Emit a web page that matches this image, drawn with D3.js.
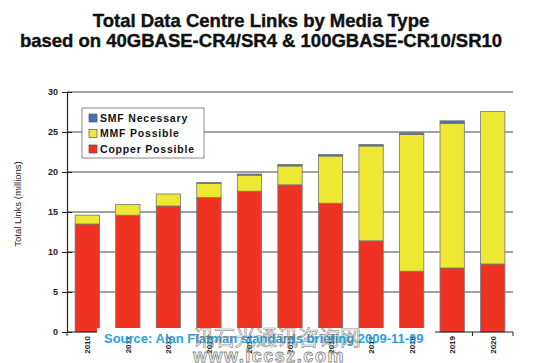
<!DOCTYPE html>
<html>
<head>
<meta charset="utf-8">
<script src="https://cdn.jsdelivr.net/npm/d3@7"></script>
<style>
  body { margin: 0; background: #fff; }
  svg { font-family: Arial, "Liberation Sans", sans-serif; }
</style>
</head>
<body>
<div id="chart"></div>
<script>
// values (millions of links)
const years = ["2010", "2011", "2012", "2013", "2014", "2015", "2016", "2017", "2018", "2019", "2020"];
const copper = [13.5, 14.6, 15.75, 16.8, 17.6, 18.4, 16.1, 11.4, 7.6, 8.0, 8.5];
const mmf = [1.1, 1.35, 1.5, 1.75, 2.0, 2.35, 5.9, 11.85, 17.1, 18.05, 19.05];
const smf = [0, 0, 0, 0.15, 0.15, 0.2, 0.2, 0.2, 0.2, 0.35, 0];
const yTicks = [0, 5, 10, 15, 20, 25, 30];

const seriesKeys = ["copper", "mmf", "smf"];
const seriesLabels = { smf: "SMF Necessary", mmf: "MMF Possible", copper: "Copper Possible" };
const colors = { copper: "#ee3322", mmf: "#eee833", smf: "#4a6cc0" };

const width = 557, height = 363;
const margin = { top: 92, right: 44, bottom: 31, left: 67 };
const w = width - margin.left - margin.right;
const h = height - margin.top - margin.bottom;

const table = years.map((y, i) => ({ year: y, copper: copper[i], mmf: mmf[i], smf: smf[i] }));

const svg = d3.select("#chart").append("svg")
  .attr("width", width)
  .attr("height", height);

// title
const titleLines = ["Total Data Centre Links by Media Type", "based on 40GBASE-CR4/SR4 & 100GBASE-CR10/SR10"];
svg.selectAll("text.title")
  .data(titleLines)
  .join("text")
  .attr("class", "title")
  .attr("x", 261).attr("y", (d, i) => 27 + i * 20)
  .attr("text-anchor", "middle")
  .style("font-size", "18.5px").style("font-weight", "bold")
  .attr("fill", "#111").attr("stroke", "#111").attr("stroke-width", 0.4)
  .text(d => d);

const g = svg.append("g").attr("transform", `translate(${margin.left},${margin.top})`);

const x = d3.scaleBand().domain(years).range([0, w]).paddingInner(0.4).paddingOuter(0.2);
const y = d3.scaleLinear().domain([0, 30]).range([h, 0]);

// gridlines
g.selectAll("line.grid")
  .data(yTicks.filter(d => d > 0))
  .join("line")
  .attr("class", "grid")
  .attr("x1", 0).attr("x2", w)
  .attr("y1", d => y(d)).attr("y2", d => y(d))
  .attr("stroke", "#444").attr("stroke-width", 1);

// stacked bars
const stack = d3.stack().keys(seriesKeys)(table);
g.selectAll("g.series")
  .data(stack)
  .join("g")
  .attr("class", "series")
  .attr("fill", d => colors[d.key])
  .selectAll("rect")
  .data(d => d.filter(p => p[1] - p[0] > 0))
  .join("rect")
  .attr("x", d => x(d.data.year))
  .attr("width", x.bandwidth())
  .attr("y", d => y(d[1]))
  .attr("height", d => y(d[0]) - y(d[1]))
  .attr("stroke", "#777")
  .attr("stroke-width", 0.8);

// y axis
const yAxis = g.append("g")
  .call(d3.axisLeft(y).tickValues(yTicks).tickSize(5).tickPadding(4));
yAxis.select(".domain").attr("stroke", "#222").attr("stroke-width", 1.2);
yAxis.selectAll(".tick line").attr("stroke", "#222").attr("x2", -5).attr("x1", 5);
yAxis.selectAll(".tick text")
  .attr("fill", "#222")
  .style("font-size", "9px").style("font-weight", "bold");

// x axis, ticks on category borders
const xAxis = g.append("g").attr("transform", `translate(0,${h})`);
xAxis.append("line")
  .attr("x1", 0).attr("x2", w)
  .attr("stroke", "#222").attr("stroke-width", 1.2);
xAxis.selectAll("line.xtick")
  .data(d3.range(years.length + 1))
  .join("line")
  .attr("class", "xtick")
  .attr("x1", i => i * w / years.length).attr("x2", i => i * w / years.length)
  .attr("y1", 0).attr("y2", 4)
  .attr("stroke", "#222");

// legend
const legend = g.append("g").attr("transform", "translate(15,16)");
legend.append("rect")
  .attr("width", 122).attr("height", 50)
  .attr("fill", "#fff").attr("stroke", "#888").attr("stroke-width", 1);
const legendOrder = ["smf", "mmf", "copper"];
const item = legend.selectAll("g.item")
  .data(legendOrder)
  .join("g")
  .attr("class", "item")
  .attr("transform", (d, i) => `translate(7,${9.5 + i * 15.5})`);
item.append("rect")
  .attr("y", -3.5).attr("width", 8).attr("height", 8)
  .attr("fill", d => colors[d]).attr("stroke", "#555").attr("stroke-width", 0.7);
item.append("text")
  .attr("x", 11).attr("y", 4)
  .style("font-size", "10.5px").style("font-weight", "bold").style("letter-spacing", "0.8px")
  .attr("fill", "#111")
  .text(d => seriesLabels[d]);

// y label
svg.append("text")
  .attr("transform", `translate(21,${margin.top + h / 2 - 8}) rotate(-90)`)
  .attr("text-anchor", "middle")
  .style("font-size", "9.5px").attr("fill", "#222")
  .text("Total Links (millions)");

// white patch behind the source note
svg.append("rect")
  .attr("x", 97).attr("y", 328).attr("width", 338).attr("height", 35)
  .attr("fill", "#fff");

// year labels
svg.selectAll("text.year")
  .data(years)
  .join("text")
  .attr("class", "year")
  .attr("transform", d => `translate(${margin.left + x(d) + x.bandwidth() / 2 + 3},${margin.top + h + 4}) rotate(-90)`)
  .attr("text-anchor", "end")
  .style("font-size", "8px").style("font-weight", "bold").attr("fill", "#222")
  .text(d => d);

// source note
svg.append("text")
  .attr("x", 104).attr("y", 343)
  .style("font-size", "13px").style("font-weight", "bold").attr("fill", "#2aa0e0")
  .text("Source: Alan Flatman standards briefing 2009-11-09");

// watermark
svg.append("text")
  .attr("x", 193).attr("y", 345)
  .style("font-family", "'Noto Sans CJK SC', sans-serif")
  .style("font-size", "21px")
  .attr("fill", "none").attr("stroke", "#777").attr("stroke-width", 0.7).attr("opacity", 0.8)
  .text("讯石光通讯咨询网");
svg.append("text")
  .attr("x", 193).attr("y", 362)
  .style("font-size", "18px").style("font-weight", "bold").style("letter-spacing", "1.5px")
  .attr("fill", "#fff").attr("stroke", "#777").attr("stroke-width", 0.8).attr("opacity", 0.9)
  .text("www.iccsz.com");
</script>
</body>
</html>
